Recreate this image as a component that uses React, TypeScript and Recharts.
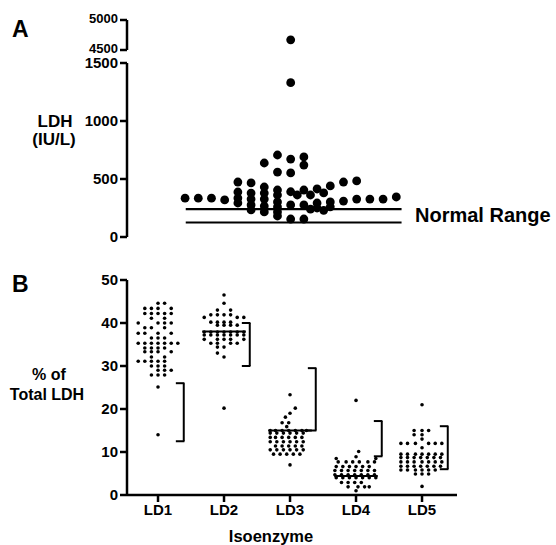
import React from "react";
import { ScatterChart, Scatter, XAxis, YAxis, ReferenceLine } from "recharts";

const FONT = "'Liberation Sans', Arial, Helvetica, sans-serif";

// Panel A: total LDH (IU/L), [swarm column, value]
const ldhSwarm: [number, number][] = [
  [0, 335], [1, 335], [2, 335], [3, 320],
  [4, 474], [4, 388], [4, 336], [4, 293],
  [5, 466], [5, 379], [5, 327], [5, 276], [5, 233],
  [6, 638], [6, 431], [6, 379], [6, 327], [6, 267], [6, 216],
  [7, 707], [7, 560], [7, 405], [7, 362], [7, 302], [7, 259], [7, 216], [7, 181],
  [8, 4670], [8, 1330], [8, 672], [8, 552], [8, 390], [8, 276], [8, 155],
  [8.5, 362],
  [9, 690], [9, 620], [9, 405], [9, 276], [9, 155],
  [9.5, 362], [9.5, 240],
  [10, 414], [10, 293], [10, 250],
  [10.5, 380], [10.5, 230],
  [11, 440], [11, 302], [11, 260],
  [12, 474], [12, 310],
  [13, 483], [13, 327],
  [14, 327], [15, 327], [16, 345],
];
const normalRange = [125, 240];
const ldhMainTicks = [0, 500, 1000, 1500];
const ldhTopTicks = [4500, 5000];

// Panel B: % of total LDH per isoenzyme, rows of [value, swarm columns]
const isoenzymes = ["LD1", "LD2", "LD3", "LD4", "LD5"];
const ld1Rows: [number, number[]][] = [
  [44.6, [0, 1]], [43.4, [-2, -1, 0, 2]], [42.2, [-2, -1, 0, 1, 2]], [41.1, [-1, 1]],
  [40, [-3, 0, 1, 2]], [38.9, [-2, -1, 1]], [37.6, [-3, -2, 0, 2]], [36.5, [-1, 0, 1]],
  [35.3, [-3, -2, -1, 0, 1, 2, 3]], [34.2, [-2, -1, 0, 1]], [33.3, [-2, -1, 0, 2]],
  [32.1, [-1, 1]], [31.1, [-3, -2, -1, 0, 1]], [30, [-1, 0, 1]], [29, [0, 1, 2]],
  [27.9, [-1, 0, 1]], [25.1, [0]], [14, [0]],
];
const ld2Rows: [number, number[]][] = [
  [46.5, [0]], [44.6, [0]], [43, [-1, 1]], [41.9, [-2, -1, 0, 1]], [41.3, [-3, 2, 3]],
  [40.2, [-2, -1, 0, 1]], [39.5, [-1, 0, 1, 2]], [37.9, [-3, -2, -1, 0, 1, 2, 3]],
  [37.2, [-3, -2, -1, 0, 1, 2, 3]], [36.2, [-3, -1, 0, 1, 3]], [35.3, [-2, -1, 1, 2]],
  [34.4, [-1, 0]], [33, [-1]], [32.1, [0]], [20.2, [0]],
];
const ld3Rows: [number, number[]][] = [
  [23.3, [0]], [20.2, [0.8]], [19, [0]], [18.1, [-0.7]], [16.8, [-1.2, -0.2]], [15.9, [-0.5]],
  [15, [-3, -2.2, -1.2, -0.2, 0.8, 1.8, 2.5]], [14.4, [-3, -2, -1, 0, 1, 2]],
  [13.4, [-3, -2.2, -1.2, -0.2, 0.8, 1.8]], [12.4, [-3, -2, -1, 0, 1, 2]],
  [11.4, [-2.2, -1.2, -0.2, 0.8, 1.8]], [10.5, [-3, -2, -1, 0, 1, 2]],
  [9.5, [-2.5, -1.5, -0.5, 0.5, 1.5]], [7, [0]],
];
const ld4Rows: [number, number[]][] = [
  [22, [0]], [10.1, [0.4]], [8.9, [0]], [8.5, [-3, 3]],
  [7.7, [-2.7, -1.5, -0.5, 0.5, 1.8, 2.8]], [6.6, [-3, -2, -1, 0, 1, 2]],
  [5.7, [-3.2, -2.2, -1.2, -0.2, 0.8, 1.8, 2.8]], [4.7, [-3.2, -2.2, -1.2, -0.2, 0.8, 1.8, 2.8]],
  [4, [-3, -2, -1, 0, 1, 2, 3]], [2.9, [-2.2, -1.2, -0.2, 0.8]], [1.9, [-1.2, 0.3, 1.3, 2]], [1, [0]],
];
const ld5Rows: [number, number[]][] = [
  [21, [0]], [15, [-1.2, 0, 1]], [14, [-1.2, 0]], [13, [0]], [12, [-3.2, -2.2, -1, 1, 2, 3]],
  [11, [0]], [9.5, [-3.2, -2.2, -1, 0, 1, 2, 3]], [8.7, [-3.2, -2.2, -1.2, -0.2, 0.8, 1.8, 2.8]],
  [7.7, [-3.2, -2.2, -1.2, 0, 1, 2, 3]], [6.7, [-3.2, -2.2, -1.2, -0.2, 0.8, 1.8, 2.8]],
  [5.8, [-3.2, -2.2, -1, 0, 1, 2]], [4.9, [-1, 0, 1]], [2, [0]],
];
const isoRanges: [number, number][] = [[12.5, 26], [30, 40], [15, 29.5], [9, 17.2], [6, 16]];
const isoMedians: (number | null)[] = [null, 38, 15, 4.4, null];
const pctTicks = [0, 10, 20, 30, 40, 50];

const W = 556;
const H = 545;
const layer: React.CSSProperties = { position: "absolute", left: 0, top: 0 };
const axisStyle = { stroke: "#000", strokeWidth: 2.5 };
const tickStyle = { fill: "#000", fontSize: 15, fontWeight: "bold", fontFamily: FONT };

const BigDot = (p: any) => <circle cx={p.cx} cy={p.cy} r={4.4} fill="#000" />;
const SmallDot = (p: any) => <circle cx={p.cx} cy={p.cy} r={1.8} fill="#000" />;

// top segment labels sit a little high so 4500 clears 1500 below it
const TopTick = (p: any) => (
  <text
    x={p.x}
    y={p.y - 2}
    dy="0.35em"
    textAnchor="end"
    fill="#000"
    fontSize={13}
    fontWeight="bold"
    fontFamily={FONT}
  >
    {p.payload.value}
  </text>
);

const ldhPoints = ldhSwarm.map(([x, y]) => ({ x, y }));
const ldhTop = ldhPoints.filter((p) => p.y > 1500);
const ldhMain = ldhPoints.filter((p) => p.y <= 1500);

const isoPoints = [ld1Rows, ld2Rows, ld3Rows, ld4Rows, ld5Rows].flatMap((rows, g) =>
  rows.flatMap(([v, cols]) => cols.map((c) => ({ x: g + 1 + c * 0.1, y: v })))
);

export default function App() {
  return (
    <div style={{ position: "absolute", left: 0, top: 0, width: W, height: H, background: "#fff" }}>
      {/* Panel A, broken upper segment */}
      <div style={layer}>
        <ScatterChart width={W} height={H} margin={{ top: 20, right: 99, bottom: 495, left: 67 }}>
          <XAxis type="number" dataKey="x" domain={[-4.4, 20.6]} hide />
          <YAxis
            type="number"
            dataKey="y"
            domain={[4500, 5000]}
            ticks={ldhTopTicks}
            width={60}
            axisLine={axisStyle}
            tickLine={axisStyle}
            tickSize={7}
            tick={TopTick}
            interval={0}
          />
          <Scatter data={ldhTop} shape={BigDot} isAnimationActive={false} />
        </ScatterChart>
      </div>

      {/* Panel A, main segment */}
      <div style={layer}>
        <ScatterChart width={W} height={H} margin={{ top: 63, right: 99, bottom: 308, left: 67 }}>
          <XAxis
            type="number"
            dataKey="x"
            domain={[-4.4, 20.6]}
            height={0}
            tick={false}
            tickLine={false}
            axisLine={axisStyle}
          />
          <YAxis
            type="number"
            dataKey="y"
            domain={[0, 1500]}
            ticks={ldhMainTicks}
            width={60}
            axisLine={axisStyle}
            tickLine={axisStyle}
            tickSize={7}
            tick={tickStyle}
            interval={0}
          />
          {normalRange.map((v) => (
            <ReferenceLine
              key={v}
              segment={[{ x: 0.05, y: v }, { x: 16.4, y: v }]}
              stroke="#000"
              strokeWidth={2.2}
            />
          ))}
          <Scatter data={ldhMain} shape={BigDot} isAnimationActive={false} />
        </ScatterChart>
      </div>

      {/* Panel B */}
      <div style={layer}>
        <ScatterChart width={W} height={H} margin={{ top: 280, right: 99, bottom: 20, left: 67 }}>
          <XAxis
            type="number"
            dataKey="x"
            domain={[0.53, 5.53]}
            ticks={[1, 2, 3, 4, 5]}
            tickFormatter={(v: number) => isoenzymes[v - 1]}
            height={30}
            axisLine={axisStyle}
            tickLine={axisStyle}
            tickSize={7}
            tick={tickStyle}
            interval={0}
          />
          <YAxis
            type="number"
            dataKey="y"
            domain={[0, 50]}
            ticks={pctTicks}
            width={60}
            axisLine={axisStyle}
            tickLine={axisStyle}
            tickSize={7}
            tick={tickStyle}
            interval={0}
          />
          {isoRanges.map(([lo, hi], i) => {
            const g = i + 1;
            const bx = g + 0.39;
            return (
              <React.Fragment key={"r" + i}>
                <ReferenceLine segment={[{ x: bx, y: lo }, { x: bx, y: hi }]} stroke="#000" strokeWidth={2} />
                <ReferenceLine segment={[{ x: bx - 0.12, y: lo }, { x: bx + 0.01, y: lo }]} stroke="#000" strokeWidth={2} />
                <ReferenceLine segment={[{ x: bx - 0.12, y: hi }, { x: bx + 0.01, y: hi }]} stroke="#000" strokeWidth={2} />
              </React.Fragment>
            );
          })}
          {isoMedians.map((m, i) =>
            m == null ? null : (
              <ReferenceLine
                key={"m" + i}
                segment={[{ x: i + 1 - 0.33, y: m }, { x: i + 1 + 0.33, y: m }]}
                stroke="#000"
                strokeWidth={2}
              />
            )
          )}
          <Scatter data={isoPoints} shape={SmallDot} isAnimationActive={false} />
        </ScatterChart>
      </div>

      {/* labels */}
      <svg width={W} height={H} style={{ ...layer, pointerEvents: "none" }} fontFamily={FONT} fontWeight="bold">
        <text x={12} y={37} fontSize={23}>A</text>
        <text x={55} y={127} fontSize={17} textAnchor="middle">LDH</text>
        <text x={54} y={145} fontSize={17} textAnchor="middle">(IU/L)</text>
        <text x={415} y={222} fontSize={20}>Normal Range</text>
        <text x={12} y={292} fontSize={23}>B</text>
        <text x={49} y={380} fontSize={16} textAnchor="middle">% of</text>
        <text x={47} y={400} fontSize={16} textAnchor="middle">Total LDH</text>
        <text x={271} y={542} fontSize={16.5} textAnchor="middle">Isoenzyme</text>
      </svg>
    </div>
  );
}
